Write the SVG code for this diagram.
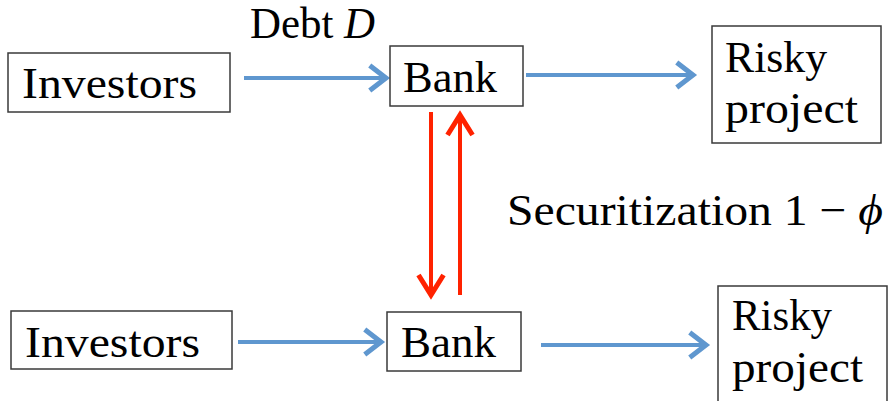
<svg xmlns="http://www.w3.org/2000/svg" width="888" height="401" viewBox="0 0 888 401">
<defs>
<style>
.box{fill:#fff;stroke:#3a3a3a;stroke-width:1.5}
.t{font-family:"Liberation Serif","DejaVu Serif",serif;font-size:44px;fill:#000}
.blue{stroke:#5f97cf;stroke-width:4;fill:none}
.red{stroke:#ff2200;stroke-width:4;fill:none}
</style>
<marker id="hb" markerUnits="userSpaceOnUse" markerWidth="30" markerHeight="30" viewBox="-16 -12 20 24" refX="0" refY="0" orient="auto">
<path d="M-13,-10 L0,0 L-13,10" fill="none" stroke="#5f97cf" stroke-width="4"/>
</marker>
<marker id="hr" markerUnits="userSpaceOnUse" markerWidth="30" markerHeight="30" viewBox="-20 -12 24 24" refX="0" refY="0" orient="auto">
<path d="M-16,-10 L0,0 L-16,10" fill="none" stroke="#ff2200" stroke-width="4"/>
</marker>
</defs>
<rect width="888" height="401" fill="#fff"/>
<g id="connectors">
<line class="blue" x1="244" y1="78" x2="386" y2="78" marker-end="url(#hb)"/>
<line class="blue" x1="526" y1="75" x2="693" y2="75" marker-end="url(#hb)"/>
<line class="blue" x1="238" y1="342" x2="381" y2="342" marker-end="url(#hb)"/>
<line class="blue" x1="541" y1="345" x2="706" y2="345" marker-end="url(#hb)"/>
<line class="red" x1="431" y1="112" x2="431" y2="295" marker-end="url(#hr)"/>
<line class="red" x1="460" y1="295" x2="460" y2="115" marker-end="url(#hr)"/>
<text class="t" x="250" y="38" font-size="36" textLength="125" lengthAdjust="spacingAndGlyphs">Debt <tspan font-style="italic">D</tspan></text>
<text class="t" x="507" y="225" textLength="376" lengthAdjust="spacingAndGlyphs">Securitization 1 − <tspan font-style="italic">ϕ</tspan></text>
</g>
<g id="investors-top">
<rect class="box" x="8" y="53" width="222" height="59"/>
<text class="t" x="22" y="98" textLength="175" lengthAdjust="spacingAndGlyphs">Investors</text>
</g>
<g id="bank-top">
<rect class="box" x="390" y="46" width="133" height="60"/>
<text class="t" x="403" y="92" textLength="94" lengthAdjust="spacingAndGlyphs">Bank</text>
</g>
<g id="risky-top">
<rect class="box" x="712" y="26" width="169" height="117"/>
<text class="t" x="725" y="72" textLength="102" lengthAdjust="spacingAndGlyphs">Risky</text>
<text class="t" x="725" y="123" textLength="133" lengthAdjust="spacingAndGlyphs">project</text>
</g>
<g id="investors-bottom">
<rect class="box" x="11" y="311" width="221" height="58"/>
<text class="t" x="25" y="357" textLength="175" lengthAdjust="spacingAndGlyphs">Investors</text>
</g>
<g id="bank-bottom">
<rect class="box" x="387" y="312" width="134" height="59"/>
<text class="t" x="401" y="357" textLength="95" lengthAdjust="spacingAndGlyphs">Bank</text>
</g>
<g id="risky-bottom">
<rect class="box" x="718" y="286" width="169" height="120"/>
<text class="t" x="732" y="330" textLength="100" lengthAdjust="spacingAndGlyphs">Risky</text>
<text class="t" x="732" y="382" textLength="131" lengthAdjust="spacingAndGlyphs">project</text>
</g>
</svg>
